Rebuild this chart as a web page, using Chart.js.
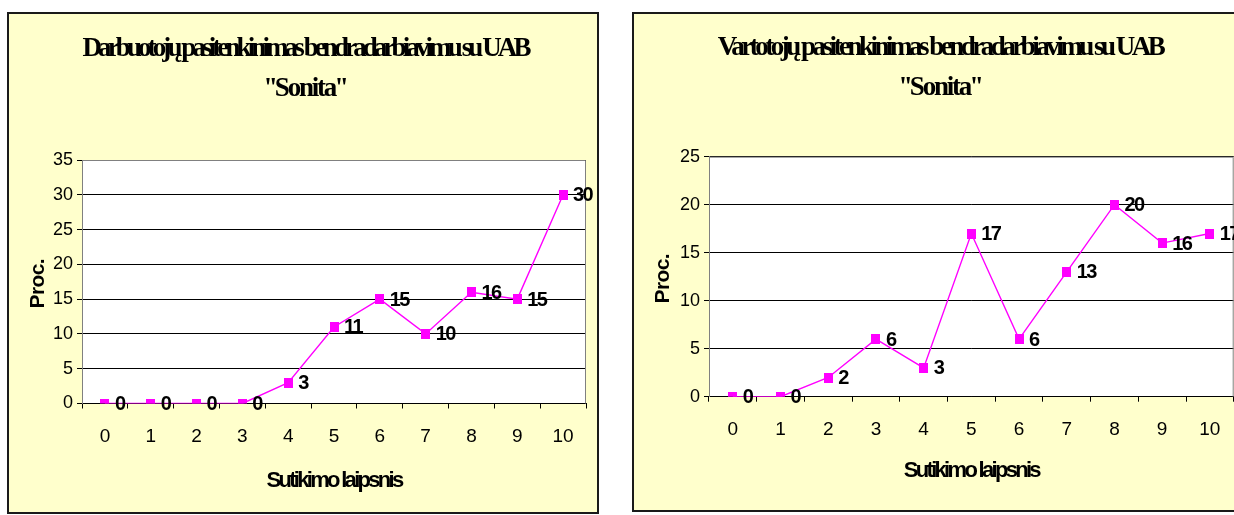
<!DOCTYPE html>
<html lang="lt">
<head>
<meta charset="utf-8">
<script src="https://cdn.jsdelivr.net/npm/chart.js@4/dist/chart.umd.min.js"></script>
<style>
  html, body { margin: 0; padding: 0; background: #fff; overflow: hidden; width: 1234px; height: 515px; }
  .panel { position: absolute; box-sizing: border-box; border: 2px solid #1a1a1a; background: #ffffcc; }
  .panel canvas { display: block; }
  #p1 { left: 7px; top: 12px; width: 592px; height: 502px; }
  #p2 { left: 632px; top: 12px; width: 616px; height: 500px; }
</style>
</head>
<body>
<div class="panel" id="p1"><canvas id="c1" width="588" height="498"></canvas></div>
<div class="panel" id="p2"><canvas id="c2" width="612" height="496"></canvas></div>
<script>
// Agreement level 0..10 on the x axis
const categories = ['0', '1', '2', '3', '4', '5', '6', '7', '8', '9', '10'];
// Share of respondents, percent
const employeeValues = [0, 0, 0, 0, 3, 11, 15, 10, 16, 15, 30];
const customerValues = [0, 0, 2, 6, 3, 17, 6, 13, 20, 16, 17];
// Titles
const employeeTitle = ['Darbuotojų pasitenkinimas bendradarbiavimu su UAB', '\'\'Sonita\'\''];
const customerTitle = ['Vartotojų pasitenkinimas bendradarbiavimu su UAB', '\'\'Sonita\'\''];
const xTitle = 'Sutikimo laipsnis';
const yTitle = 'Proc.';
const employeeYMax = 35;
const customerYMax = 25;

const MAGENTA = '#ff00ff';
const SANS = '"Liberation Sans", Arial, sans-serif';

// square marker, a little taller than wide
const marker = document.createElement('canvas');
marker.width = 9; marker.height = 10;
(function () { const m = marker.getContext('2d'); m.fillStyle = MAGENTA; m.fillRect(0, 0, 9, 10); })();

function tightText(ctx, text, x, y, spacing) {
  if ('letterSpacing' in ctx) {
    ctx.letterSpacing = spacing + 'px';
    ctx.fillText(text, x, y);
  } else {
    const w = ctx.measureText(text).width;
    const s = Math.max(0.5, (w + spacing * text.length) / w);
    ctx.save(); ctx.translate(x, y); ctx.scale(s, 1); ctx.fillText(text, 0, 0); ctx.restore();
  }
}

// white plot background and grey frame around it
const plotFrame = {
  id: 'plotFrame',
  beforeDraw(chart) {
    const a = chart.chartArea, ctx = chart.ctx;
    ctx.save(); ctx.fillStyle = '#ffffff';
    ctx.fillRect(a.left, a.top, a.right - a.left, a.bottom - a.top);
    ctx.restore();
  },
  beforeDatasetsDraw(chart) {
    const a = chart.chartArea, ctx = chart.ctx;
    ctx.save(); ctx.strokeStyle = '#808080'; ctx.lineWidth = 1;
    ctx.beginPath();
    ctx.moveTo(a.left, a.top + 0.5); ctx.lineTo(a.right - 0.5, a.top + 0.5); ctx.lineTo(a.right - 0.5, a.bottom);
    ctx.stroke(); ctx.restore();
  }
};

// titles, axis titles and value labels
const texts = {
  id: 'texts',
  afterDatasetsDraw(chart, args, opts) {
    const ctx = chart.ctx, a = chart.chartArea;
    ctx.save();
    ctx.fillStyle = '#000';
    // value labels right of each point
    ctx.font = 'bold 20px ' + SANS;
    ctx.textAlign = 'left'; ctx.textBaseline = 'middle';
    const meta = chart.getDatasetMeta(0);
    const data = chart.data.datasets[0].data;
    meta.data.forEach((pt, i) => tightText(ctx, String(data[i]), pt.x + 10, pt.y + 1, -1.6));
    ctx.restore();

    ctx.save();
    ctx.fillStyle = '#000';
    // chart title
    ctx.font = 'bold 27px "Liberation Serif", "Times New Roman", serif';
    ctx.textAlign = 'center'; ctx.textBaseline = 'middle';
    const cx = chart.width / 2 + opts.titleShift;
    tightText(ctx, opts.title[0], cx, opts.titleY, opts.titleSpacing);
    tightText(ctx, opts.title[1], cx, opts.titleY + 40, -2.2);
    // x axis title
    ctx.font = 'bold 22px ' + SANS;
    tightText(ctx, xTitle, (a.left + a.right) / 2, a.bottom + opts.xTitleGap, -2.7);
    // y axis title
    ctx.translate(a.left - opts.yTitleGap, (a.top + a.bottom) / 2 + 2);
    ctx.rotate(-Math.PI / 2);
    ctx.font = 'bold 21px ' + SANS;
    tightText(ctx, yTitle, 0, 0, -0.6);
    ctx.restore();
  }
};

function makeChart(id, values, yMax, title, g) {
  return new Chart(document.getElementById(id), {
    type: 'line',
    data: {
      labels: categories,
      datasets: [{
        data: values,
        borderColor: MAGENTA,
        borderWidth: 1.4,
        pointStyle: marker,
        pointRadius: 5,
        pointHoverRadius: 5,
        tension: 0,
        fill: false
      }]
    },
    options: {
      responsive: false,
      animation: false,
      events: [],
      layout: { padding: { left: 0, right: g.padRight, top: g.padTop, bottom: 0 } },
      plugins: {
        legend: { display: false },
        title: { display: false },
        tooltip: { enabled: false },
        texts: { title: title, titleY: g.titleY, titleShift: g.titleShift, titleSpacing: g.titleSpacing, xTitleGap: g.xTitleGap, yTitleGap: g.yTitleGap }
      },
      scales: {
        x: {
          type: 'category',
          offset: true,
          afterFit(s) { s.height = g.xHeight; },
          grid: { offset: true, drawOnChartArea: false, drawTicks: true, tickLength: 5, color: '#000', tickColor: '#000' },
          border: { display: true, color: '#000', width: 1 },
          ticks: { color: '#000', padding: 17, maxRotation: 0, autoSkip: false, font: { family: SANS, size: 19 } }
        },
        y: {
          min: 0, max: yMax,
          afterFit(s) { s.width = g.yWidth; },
          grid: { color: '#000', lineWidth: 1, drawTicks: true, tickLength: 5, tickColor: '#000' },
          border: { display: true, color: '#808080', width: 1 },
          ticks: { stepSize: 5, color: '#000', padding: 4, font: { family: SANS, size: 18 } }
        }
      }
    },
    plugins: [plotFrame, texts]
  });
}

makeChart('c1', employeeValues, employeeYMax, employeeTitle,
  { padRight: 11, padTop: 146, xHeight: 108.5, yWidth: 73, titleY: 35, titleShift: 2, titleSpacing: -3.9, xTitleGap: 77, yTitleGap: 44 });
makeChart('c2', customerValues, customerYMax, customerTitle,
  { padRight: 12.3, padTop: 142.7, xHeight: 113.3, yWidth: 75, titleY: 34, titleShift: 0, titleSpacing: -3.5, xTitleGap: 74, yTitleGap: 46 });
</script>
</body>
</html>
